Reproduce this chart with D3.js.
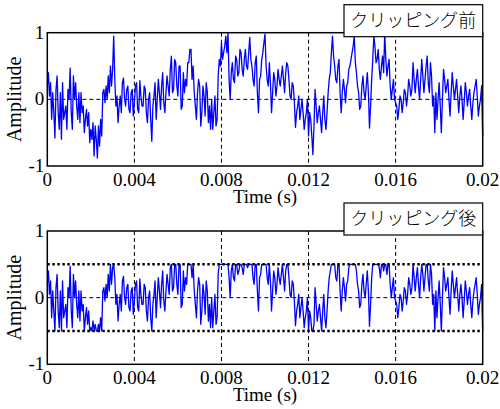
<!DOCTYPE html>
<html>
<head>
<meta charset="utf-8">
<script src="https://cdn.jsdelivr.net/npm/d3@7"></script>
<style>
  body { margin: 0; background: #fff; }
  text { font-family: "Liberation Serif", "DejaVu Serif", serif; fill: #000; }
</style>
</head>
<body>
<div id="chart"></div>
<script>
    var w = 500;
    var h = 409;

    var dt = 0.00005;
    var amplitude = [
        0.2, 0.4, 0.05, 0.25, -0.3, 0.1, -0.2, -0.58, 0.15, 0.35, -0.2, -0.45, 0.1, -0.6, 0.25, -0.3, -0.2, -0.1, -0.45, 0.15,
        0.0, 0.47, -0.2, -0.45, 0.35, 0.0, 0.25, -0.1, -0.3, 0.1, -0.35, 0.1, -0.2, -0.1, -0.5, -0.3, -0.15, -0.4, -0.2, -0.65,
        -0.45, -0.6, -0.35, -0.85, -0.4, -0.6, -0.88, -0.4, -0.7, -0.3, -0.55, 0.1, 0.15, -0.05, 0.2, 0.0, 0.35, 0.1, 0.5, 0.2,
        0.45, 0.95, 0.3, -0.1, 0.05, -0.35, -0.1, 0.05, -0.2, 0.25, 0.32, 0.0, -0.1, 0.15, 0.2, -0.15, -0.2, 0.1, 0.15, -0.25,
        -0.05, 0.2, 0.25, -0.15, -0.2, 0.28, 0.05, -0.1, -0.1, 0.2, 0.15, -0.2, -0.35, 0.0, 0.1, -0.3, -0.63, -0.1, 0.05, 0.25,
        -0.3, 0.0, 0.3, 0.1, -0.15, 0.2, 0.4, -0.05, -0.2, 0.1, 0.35, 0.2, 0.05, 0.45, 0.65, 0.1, 0.15, 0.6, 0.55, 0.2,
        0.05, 0.5, 0.5, -0.15, -0.1, 0.4, 0.1, 0.3, 0.2, 0.55, 0.55, 0.75, 0.75, 0.3, 0.5, 0.1, -0.1, -0.3, 0.1, 0.3,
        0.2, -0.4, -0.2, 0.2, 0.05, -0.25, 0.25, 0.1, -0.35, -0.1, -0.45, 0.0, -0.45, -0.2, 0.05, -0.4, -0.3, 0.35, 0.6, 0.5,
        0.85, 0.6, 0.7, 0.8, 0.95, 0.7, 1.0, 0.3, 0.0, 0.4, 0.55, 0.3, 0.25, 0.65, 0.6, 0.35, 0.4, 0.75, 0.7, 0.45,
        0.35, 0.6, 0.75, 0.5, 0.45, 0.7, 0.93, 0.6, 0.5, 0.3, 0.2, 0.55, 0.65, 0.1, -0.2, 0.3, 0.35, 0.6, 0.7, 0.85,
        0.98, 0.5, 0.3, 0.2, 0.55, 0.25, -0.2, 0.1, 0.4, 0.3, 0.05, 0.2, 0.45, 0.3, 0.2, 0.35, 0.5, 0.3, 0.1, 0.4,
        0.55, 0.5, 0.3, 0.05, 0.0, 0.25, 0.2, -0.05, -0.42, -0.2, -0.1, 0.05, -0.3, -0.15, 0.0, -0.2, -0.45, -0.3, -0.2, 0.0,
        -0.55, -0.2, -0.3, -0.55, -0.83, -0.4, 0.15, -0.1, -0.35, -0.2, -0.1, -0.3, -0.5, -0.2, 0.05, -0.3, -0.45, -0.2, 0.1, 0.3,
        0.4, 0.7, 0.95, 0.65, 0.5, 0.3, 0.25, 0.5, 0.6, 0.1, -0.2, 0.1, 0.3, 0.15, -0.05, 0.2, 0.25, 0.45, 0.5, 0.6,
        0.7, 0.8, 0.95, 0.55, 0.4, 0.2, 0.1, -0.15, -0.1, 0.2, 0.35, 0.1, 0.0, 0.2, 0.4, 0.1, -0.43, -0.1, 0.3, 0.6,
        0.95, 0.8, 0.55, 0.6, 0.75, 0.45, 0.3, 0.5, 0.65, 0.4, 1.0, 0.6, 0.35, 0.5, 0.6, 0.2, 0.0, 0.15, 0.3, 0.0,
        -0.05, -0.1, -0.3, -0.15, 0.05, 0.0, -0.2, -0.05, 0.15, 0.1, -0.1, 0.05, 0.3, 0.2, 0.05, 0.15, 0.55, 0.3, 0.1, 0.3,
        0.45, 0.2, 0.0, 0.3, 0.6, 0.35, 0.1, 0.3, 0.5, 0.65, 0.25, 0.1, 0.55, 0.35, -0.1, 0.05, -0.5, 0.1, -0.3, 0.0,
        0.25, -0.1, -0.5, 0.0, 0.45, 0.3, 0.1, 0.2, 0.3, 0.0, -0.25, 0.1, 0.4, 0.2, 0.0, 0.15, 0.3, 0.05, -0.2, 0.05,
        0.2, 0.0, -0.3, -0.05, 0.25, 0.1, -0.1, 0.05, 0.15, -0.1, -0.3, -0.05, 0.1, 0.2, 0.3, 0.05, -0.25, -0.1, 0.0, 0.2,
        -0.55
    ];
    var clipLevel = 0.5;
    var titles = ["クリッピング前", "クリッピング後"];
    var xTicks = [0, 0.004, 0.008, 0.012, 0.016, 0.02];
    var yTicks = [-1, 0, 1];

    var clipped = amplitude.map(function(v) {
        return Math.max(-clipLevel, Math.min(clipLevel, v));
    });

    var left = 47.3, plotW = 435.4, plotH = 133.3;
    var tops = [32.7, 231];

    var svg = d3.select("#chart")
            .append("svg")
            .attr("width", w)
            .attr("height", h);

    var x = d3.scaleLinear().domain([0, 0.02]).range([left, left + plotW]);

    function drawPanel(top, values, title, showClip) {
        var y = d3.scaleLinear().domain([-1, 1]).range([top + plotH, top]);
        var g = svg.append("g");

        // dashed grid
        g.selectAll("line.vgrid")
            .data([0.004, 0.008, 0.012, 0.016])
            .enter().append("line")
            .attr("x1", function(d) { return x(d); })
            .attr("x2", function(d) { return x(d); })
            .attr("y1", top).attr("y2", top + plotH)
            .attr("stroke", "#000").attr("stroke-width", 1)
            .attr("stroke-dasharray", "4,3");
        g.append("line")
            .attr("x1", left).attr("x2", left + plotW)
            .attr("y1", y(0)).attr("y2", y(0))
            .attr("stroke", "#000").attr("stroke-width", 1)
            .attr("stroke-dasharray", "4,3");

        // the signal
        var line = d3.line()
            .x(function(d, i) { return x(i * dt); })
            .y(function(d) { return y(d); });
        g.append("path")
            .attr("d", line(values))
            .attr("fill", "none")
            .attr("stroke", "#0000ff")
            .attr("stroke-width", 1.3)
            .attr("stroke-linejoin", "round");

        if (showClip) {
            g.selectAll("line.clip")
                .data([clipLevel, -clipLevel])
                .enter().append("line")
                .attr("x1", left).attr("x2", left + plotW)
                .attr("y1", function(d) { return y(d); })
                .attr("y2", function(d) { return y(d); })
                .attr("stroke", "#000").attr("stroke-width", 2.5)
                .attr("stroke-dasharray", "2.5,2.5");
        }

        // frame
        g.append("rect")
            .attr("x", left).attr("y", top)
            .attr("width", plotW).attr("height", plotH)
            .attr("fill", "none").attr("stroke", "#000").attr("stroke-width", 1.5);

        // tick labels
        g.selectAll("text.xt")
            .data(xTicks)
            .enter().append("text")
            .attr("x", function(d) { return x(d); })
            .attr("y", top + plotH + 20)
            .attr("text-anchor", "middle")
            .attr("font-size", 19)
            .text(function(d) { return d; });
        g.selectAll("text.yt")
            .data(yTicks)
            .enter().append("text")
            .attr("x", left - 3)
            .attr("y", function(d) { return y(d) + 6; })
            .attr("text-anchor", "end")
            .attr("font-size", 19)
            .text(function(d) { return d; });

        g.append("text")
            .attr("x", left + plotW / 2)
            .attr("y", top + plotH + 37)
            .attr("text-anchor", "middle")
            .attr("font-size", 19)
            .text("Time (s)");
        g.append("text")
            .attr("transform", "translate(21," + y(0) + ") rotate(-90)")
            .attr("text-anchor", "middle")
            .attr("font-size", 20)
            .text("Amplitude");

        // title box
        var bx = 344, bw = left + plotW - bx, by = top - 28, bh = 32;
        g.append("rect")
            .attr("x", bx).attr("y", by)
            .attr("width", bw).attr("height", bh)
            .attr("fill", "#fff").attr("stroke", "#000").attr("stroke-width", 1.2);
        g.append("text")
            .attr("x", bx + bw / 2)
            .attr("y", by + bh / 2 + 6)
            .attr("text-anchor", "middle")
            .attr("font-size", 18)
            .style("font-family", "'Noto Sans CJK JP', sans-serif")
            .style("font-weight", 300)
            .text(title);
    }

    drawPanel(tops[0], amplitude, titles[0], false);
    drawPanel(tops[1], clipped, titles[1], true);
</script>
</body>
</html>
